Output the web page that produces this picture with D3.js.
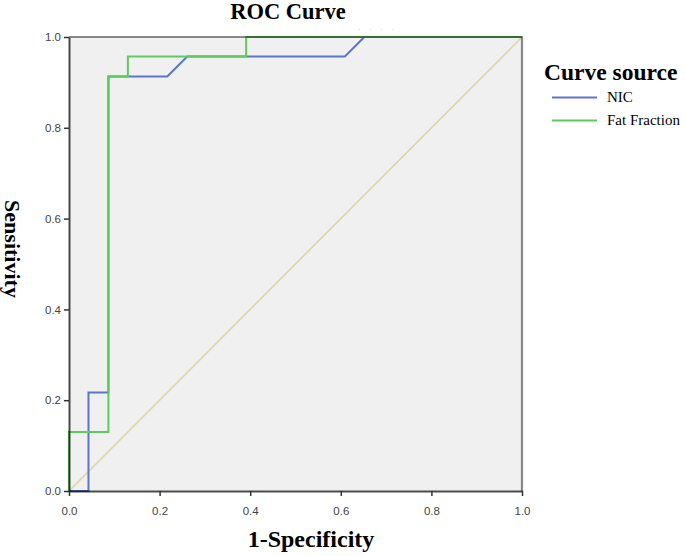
<!DOCTYPE html>
<html>
<head>
<meta charset="utf-8">
<script src="https://cdn.jsdelivr.net/npm/d3@7"></script>
<style>
  html, body { margin: 0; padding: 0; background: #ffffff; }
  svg { display: block; }
</style>
</head>
<body>
<div id="chart"></div>
<script>
// ---- data ----
const seriesNames = ["NIC", "Fat Fraction"];
const seriesColors = ["#5b76c9", "#5fcb5f"];
const nicFPR = [0, 0.043, 0.043, 0.087, 0.087, 0.217, 0.261, 0.609, 0.652, 1.0];
const nicTPR = [0, 0, 0.217, 0.217, 0.913, 0.913, 0.957, 0.957, 1.0, 1.0];
const ffFPR  = [0, 0, 0.087, 0.087, 0.130, 0.130, 0.391, 0.391, 1.0];
const ffTPR  = [0, 0.130, 0.130, 0.913, 0.913, 0.957, 0.957, 1.0, 1.0];
const refFPR = [0, 1];
const refTPR = [0, 1];
const tickValues = [0, 0.2, 0.4, 0.6, 0.8, 1.0];

const W = 685, H = 556;
const svg = d3.select("#chart").append("svg").attr("width", W).attr("height", H);

const x = d3.scaleLinear().domain([0, 1]).range([69, 522]);
const y = d3.scaleLinear().domain([0, 1]).range([491, 37]);

// plot background
svg.append("rect")
  .attr("x", x(0)).attr("y", y(1))
  .attr("width", x(1) - x(0)).attr("height", y(0) - y(1))
  .attr("fill", "#f0f0f0");

const line = d3.line().x(d => x(d[0])).y(d => y(d[1]));

// reference diagonal
svg.append("path")
  .datum(d3.zip(refFPR, refTPR))
  .attr("d", line)
  .attr("fill", "none")
  .attr("stroke", "#dcd6a4")
  .attr("stroke-width", 1.6);

// curves
const curves = [d3.zip(nicFPR, nicTPR), d3.zip(ffFPR, ffTPR)];
curves.forEach((pts, i) => {
  svg.append("path")
    .datum(pts)
    .attr("d", line)
    .attr("fill", "none")
    .attr("stroke", seriesColors[i])
    .attr("stroke-width", 2)
    .attr("stroke-linejoin", "miter");
});

// frame top/right (semi-transparent so the curves darken beneath it)
svg.append("path")
  .attr("d", `M${x(0)},${y(1)}H${x(1)}V${y(0)}`)
  .attr("fill", "none")
  .attr("stroke", "#000")
  .attr("stroke-opacity", 0.45)
  .attr("stroke-width", 2.2);

// axes
const xAxis = svg.append("g")
  .attr("transform", `translate(0,${y(0)})`)
  .call(d3.axisBottom(x).tickValues(tickValues).tickFormat(d3.format(".1f")).tickSize(5).tickSizeOuter(0));
const yAxis = svg.append("g")
  .attr("transform", `translate(${x(0)},0)`)
  .call(d3.axisLeft(y).tickValues(tickValues).tickFormat(d3.format(".1f")).tickSize(5).tickSizeOuter(0));

[xAxis, yAxis].forEach(g => {
  g.select(".domain").attr("stroke", "#000").attr("stroke-opacity", 0.7).attr("stroke-width", 2);
  g.selectAll(".tick line").attr("stroke", "#333").attr("stroke-width", 1.5);
  g.selectAll(".tick text")
    .attr("fill", "#444")
    .style("font-family", "'Liberation Sans', Arial, sans-serif")
    .style("font-size", "11.5px");
});
xAxis.selectAll(".tick text").attr("y", 24).attr("dy", 0);

// title
svg.append("text")
  .attr("x", 288).attr("y", 19)
  .attr("text-anchor", "middle")
  .style("font-family", "'Liberation Serif', 'Times New Roman', serif")
  .style("font-weight", "bold")
  .style("font-size", "22.5px")
  .attr("fill", "#000")
  .text("ROC Curve");

// tiny artifact dots near top
svg.append("text")
  .attr("x", 358).attr("y", 30)
  .style("font-family", "'Liberation Sans', sans-serif")
  .style("font-size", "8px")
  .attr("fill", "#b8b8b8")
  .attr("letter-spacing", "9px")
  .text("....");

// axis titles
svg.append("text")
  .attr("x", 311).attr("y", 547)
  .attr("text-anchor", "middle")
  .style("font-family", "'Liberation Serif', 'Times New Roman', serif")
  .style("font-weight", "bold")
  .style("font-size", "24px")
  .attr("fill", "#000")
  .text("1-Specificity");

svg.append("text")
  .attr("transform", "translate(5,249) rotate(90)")
  .attr("text-anchor", "middle")
  .style("font-family", "'Liberation Serif', 'Times New Roman', serif")
  .style("font-weight", "bold")
  .style("font-size", "22px")
  .attr("fill", "#000")
  .text("Sensitivity");

// legend
const legend = svg.append("g");
legend.append("text")
  .attr("x", 544).attr("y", 79.5)
  .style("font-family", "'Liberation Serif', 'Times New Roman', serif")
  .style("font-weight", "bold")
  .style("font-size", "23.5px")
  .attr("fill", "#000")
  .text("Curve source");

const legendRowY = [97.5, 120.5];
seriesNames.forEach((name, i) => {
  legend.append("line")
    .attr("x1", 552).attr("x2", 597)
    .attr("y1", legendRowY[i]).attr("y2", legendRowY[i])
    .attr("stroke", seriesColors[i])
    .attr("stroke-width", 2);
  legend.append("text")
    .attr("x", 607).attr("y", legendRowY[i] + 4.5)
    .style("font-family", "'Liberation Serif', 'Times New Roman', serif")
    .style("font-size", "15px")
    .attr("fill", "#000")
    .text(name);
});
</script>
</body>
</html>
